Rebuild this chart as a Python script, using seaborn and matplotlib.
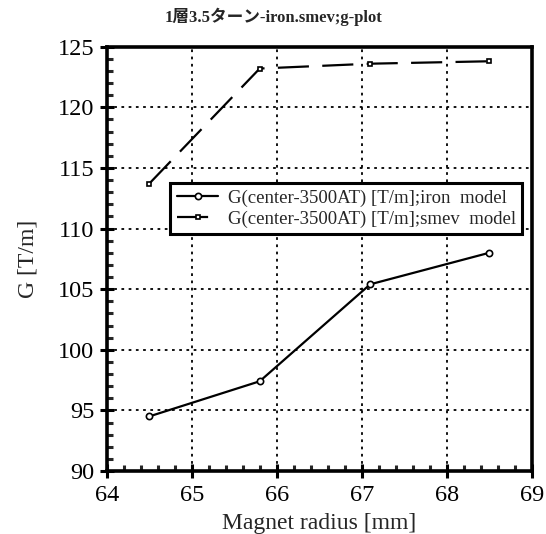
import pandas as pd
import matplotlib
matplotlib.use("Agg")
import matplotlib.pyplot as plt
import seaborn as sns
from matplotlib.ticker import MultipleLocator

# data
radius = [64.5, 65.8, 67.1, 68.5]
g_iron = [94.5, 97.4, 105.4, 108.0]
g_smev = [113.7, 123.2, 123.6, 123.8]
label_iron = "G(center-3500AT) [T/m];iron  model"
label_smev = "G(center-3500AT) [T/m];smev  model"

df = pd.DataFrame({
    "radius": radius * 2,
    "G": g_iron + g_smev,
    "model": [label_iron] * len(radius) + [label_smev] * len(radius),
})

sns.set_style("ticks")
plt.rcParams["font.family"] = ["Liberation Serif", "Noto Sans CJK JP"]

fig = plt.figure(figsize=(5.46, 5.34), dpi=100)
ax = fig.add_axes([0.1954, 0.118, 0.7784, 0.7945])

sns.lineplot(data=df[df["model"] == label_iron], x="radius", y="G", ax=ax,
             color="black", lw=1.6, marker="o", markersize=4.5,
             markerfacecolor="white", markeredgecolor="black", markeredgewidth=1.2,
             label=label_iron)
sns.lineplot(data=df[df["model"] == label_smev], x="radius", y="G", ax=ax,
             color="black", lw=1.6, marker="s", markersize=3.5,
             markerfacecolor="white", markeredgecolor="black", markeredgewidth=1.2,
             dashes=(14, 6), label=label_smev)

ax.set_xlim(64, 69)
ax.set_ylim(90, 125)
ax.xaxis.set_major_locator(MultipleLocator(1))
ax.xaxis.set_minor_locator(MultipleLocator(0.2))
ax.yaxis.set_major_locator(MultipleLocator(5))
ax.yaxis.set_minor_locator(MultipleLocator(1))
ax.tick_params(which="major", direction="inout", length=10, width=2.2,
               labelsize=17.5, colors="black")
ax.tick_params(axis="x", which="major", pad=5)
ax.tick_params(axis="y", which="major", pad=4)
ax.tick_params(which="minor", direction="in", length=4, width=2.2)
ax.tick_params(top=False, right=False)
ax.grid(True, which="major", color="black", linestyle=(0, (1.5, 2.5)), lw=1.3)

for s in ax.spines.values():
    s.set_linewidth(2.6)
    s.set_color("black")
    s.set_visible(True)

ax.set_xlabel("Magnet radius [mm]", fontsize=17, labelpad=5)
ax.set_ylabel("G [T/m]", fontsize=17, labelpad=14)
fig.suptitle("1層3.5ターン-iron.smev;g-plot", y=0.985, fontsize=12, fontweight="bold")

leg = ax.legend(loc="upper left", bbox_to_anchor=(0.15, 0.679), fontsize=13.5,
                frameon=True, fancybox=False, framealpha=1, edgecolor="black",
                borderpad=0.35, labelspacing=0.2, handlelength=2.2,
                handletextpad=0.5, borderaxespad=0)
leg.get_frame().set_linewidth(2.2)

fig.savefig("out.png", dpi=100)
